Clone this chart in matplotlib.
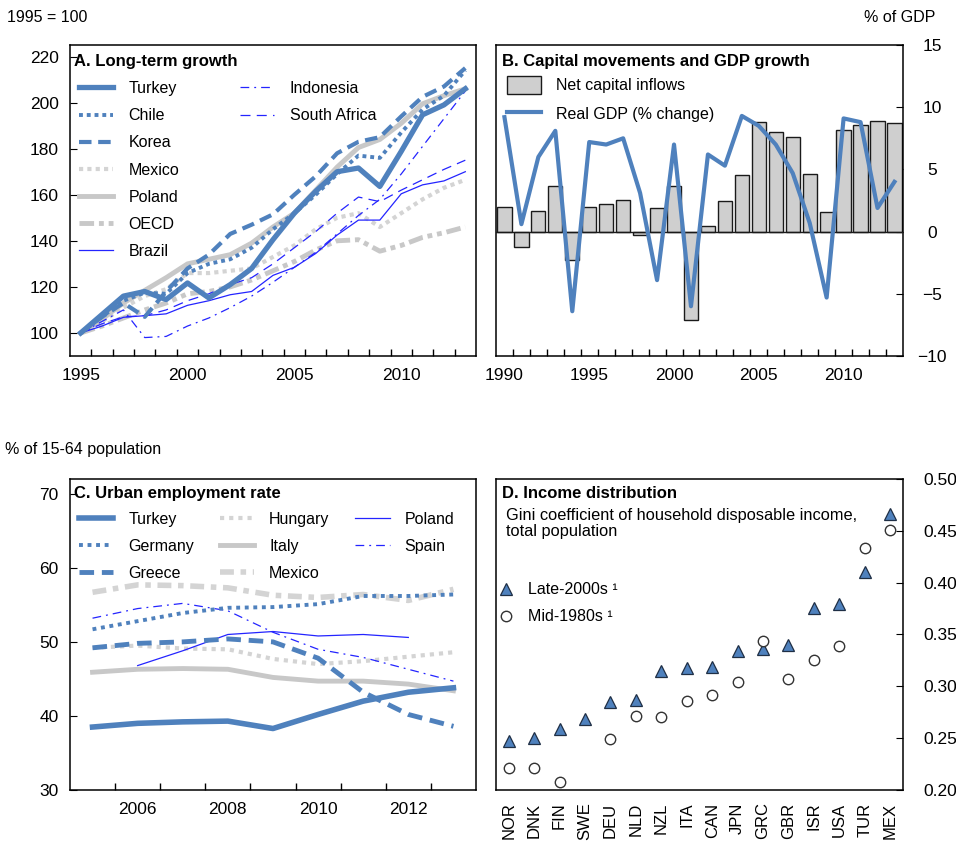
import numpy as np
import matplotlib.pyplot as plt

plt.rcParams['font.family'] = ['Liberation Sans', 'DejaVu Sans']

BLUE = '#4F81BD'
THIN = '#2424FF'
GREY = '#C8C8C8'
LGREY = '#D4D4D4'

# A. Long-term growth (1995 = 100)
years_a = list(range(1995, 2014))
turkey_a = [100, 108, 116, 118, 114.5, 121.7, 115.2, 121, 128, 140.5, 152, 161.5, 170, 171.6, 163.6, 178.8, 194.7, 199, 206]
chile_a = [100, 107, 114, 117.5, 117, 126, 130, 132, 137, 145, 152, 160, 169, 177, 176, 187, 197, 203, 214]
korea_a = [100, 107, 113, 107, 118, 128, 134, 143, 147, 151.5, 160, 168, 178, 183, 185, 194, 202.5, 207, 215]
mexico_a = [100, 105, 111, 116, 119, 126, 126, 127, 128, 133, 138, 145, 150, 152, 146, 152, 158, 163, 166.5]
poland_a = [100, 106, 113, 118.5, 124, 130, 132, 134, 139, 146, 152, 162, 172, 180.5, 184, 191, 199.5, 203, 206]
oecd_a = [100, 103, 106.5, 110, 113, 117, 118, 120, 123, 127, 131, 136, 140, 140.5, 135.5, 138, 141.5, 143.5, 146]
brazil_a = [100, 103, 106.8, 107.5, 108.3, 112, 114, 116.6, 118, 125, 128.5, 134.5, 142.5, 149, 149, 160.4, 164.3, 166, 170]
indonesia_a = [100, 105, 110, 98, 98.5, 103, 106.5, 111, 116, 122, 128.5, 135, 143, 151, 158, 169, 181, 193, 205]
south_africa_a = [100, 104, 107, 107.5, 110, 114, 117, 121, 124, 130, 137, 144, 152, 159, 157, 162, 166.5, 171, 175]

# B. Capital movements and GDP growth (% of GDP)
years_b = list(range(1990, 2014))
capital_inflows = [2.0, -1.2, 1.65, 3.7, -2.3, 2.0, 2.2, 2.55, -0.3, 1.9, 3.7, -7.1,
                   0.45, 2.45, 4.55, 8.8, 8.0, 7.6, 4.6, 1.55, 8.15, 8.6, 8.9, 8.75]
real_gdp = [9.2, 0.6, 6.0, 8.1, -6.4, 7.2, 7.0, 7.5, 3.1, -3.9, 7.0, -6.0,
            6.2, 5.3, 9.3, 8.5, 7.0, 4.7, 0.7, -5.3, 9.1, 8.8, 1.9, 4.0]

# C. Urban employment rate (% of 15-64 population)
years_c = list(range(2005, 2014))
turkey_c = [38.5, 39.0, 39.2, 39.3, 38.3, 40.2, 42.0, 43.2, 43.8]
germany_c = [51.7, 52.8, 53.9, 54.6, 54.7, 55.1, 56.2, 56.2, 56.4]
greece_c = [49.2, 49.8, 50.0, 50.4, 50.0, 47.8, 43.2, 40.2, 38.6]
hungary_c = [49.2, 49.5, 49.1, 49.0, 47.7, 47.0, 47.4, 48.0, 48.6]
italy_c = [45.9, 46.3, 46.4, 46.3, 45.2, 44.7, 44.7, 44.3, 43.4]
mexico_c = [56.7, 57.7, 57.6, 57.3, 56.3, 56.0, 56.4, 55.6, 57.1]
poland_c = [np.nan, 46.8, 48.8, 51.0, 51.4, 50.8, 51.0, 50.6, np.nan]
spain_c = [53.2, 54.5, 55.2, 54.2, 51.3, 49.0, 47.9, 46.3, 44.7]

# D. Income distribution (Gini)
countries = ['NOR', 'DNK', 'FIN', 'SWE', 'DEU', 'NLD', 'NZL', 'ITA', 'CAN', 'JPN',
             'GRC', 'GBR', 'ISR', 'USA', 'TUR', 'MEX']
late_2000s = [0.247, 0.250, 0.259, 0.268, 0.285, 0.287, 0.315, 0.318, 0.319, 0.334,
              0.336, 0.340, 0.376, 0.379, 0.410, 0.466]
mid_1980s = [0.221, 0.221, 0.208, np.nan, 0.249, 0.271, 0.270, 0.286, 0.292, 0.304,
             0.344, 0.307, 0.325, 0.339, 0.433, 0.451]

fig = plt.figure(figsize=(9.56, 8.43), dpi=100)
axA = fig.add_axes([0.0732, 0.5777, 0.4247, 0.3689])
axB = fig.add_axes([0.5188, 0.5777, 0.4257, 0.3689])
axC = fig.add_axes([0.0732, 0.0629, 0.4247, 0.3689])
axD = fig.add_axes([0.5188, 0.0629, 0.4257, 0.3689])

TICK_FS = 12.5
LEG_FS = 11.5


def year_axis(ax, start, end, labels):
    ax.set_xlim(start - 0.5, end + 0.5)
    ax.set_xticks(labels)
    ax.set_xticks(np.arange(start + 0.5, end, 1.0), minor=True)
    ax.tick_params(axis='x', which='major', length=0, pad=9, labelsize=TICK_FS)
    ax.tick_params(axis='x', which='minor', direction='in', length=5, width=1)


def right_axis(ax, pad):
    ax.yaxis.tick_right()
    ax.tick_params(axis='y', direction='in', length=5, labelsize=TICK_FS, pad=pad)
    for lbl in ax.get_yticklabels():
        lbl.set_horizontalalignment('center')


for ax in (axA, axB, axC, axD):
    for sp in ax.spines.values():
        sp.set_linewidth(1.1)

# ---- Panel A
axA.plot(years_a, oecd_a, color=GREY, lw=3.5, ls=(0, (3, 1, 1, 1, 1, 1)), label='OECD')
axA.plot(years_a, mexico_a, color=LGREY, lw=3, ls=(0, (1, 1)), label='Mexico')
axA.plot(years_a, poland_a, color=GREY, lw=3.5, label='Poland')
axA.plot(years_a, brazil_a, color=THIN, lw=0.9, label='Brazil')
axA.plot(years_a, indonesia_a, color=THIN, lw=0.9, ls=(0, (7, 4, 1.5, 4)), label='Indonesia')
axA.plot(years_a, south_africa_a, color=THIN, lw=0.9, ls=(0, (8, 5)), label='South Africa')
axA.plot(years_a, korea_a, color=BLUE, lw=3, ls=(0, (3, 1.6)), label='Korea')
axA.plot(years_a, chile_a, color=BLUE, lw=2.8, ls=(0, (1, 1)), label='Chile')
axA.plot(years_a, turkey_a, color=BLUE, lw=3.8, label='Turkey')

h, l = axA.get_legend_handles_labels()
hd = dict(zip(l, h))
order1 = ['Turkey', 'Chile', 'Korea', 'Mexico', 'Poland', 'OECD', 'Brazil']
order2 = ['Indonesia', 'South Africa']
leg_kw = dict(frameon=False, fontsize=LEG_FS, handlelength=2.15, handletextpad=0.95,
              labelspacing=0.76, borderpad=0, borderaxespad=0, loc='upper left')
leg1 = axA.legend([hd[k] for k in order1], order1, bbox_to_anchor=(0.022, 0.884), **leg_kw)
axA.add_artist(leg1)
axA.legend([hd[k] for k in order2], order2, bbox_to_anchor=(0.419, 0.884), **leg_kw)

axA.set_ylim(90, 225)
axA.set_yticks(range(100, 221, 20))
axA.tick_params(axis='y', direction='in', length=5, labelsize=TICK_FS, pad=8)
year_axis(axA, 1995, 2013, [1995, 2000, 2005, 2010])
axA.text(0.01, 0.948, 'A. Long-term growth', transform=axA.transAxes, fontsize=12,
         fontweight='bold', va='center', ha='left')

# ---- Panel B
bars = axB.bar(years_b, capital_inflows, width=0.84, color='#CFCFCF', edgecolor='#1A1A1A',
               lw=1, zorder=2)
axB.axhline(0, color='#1A1A1A', lw=1, zorder=3)
gdp_line, = axB.plot(years_b, real_gdp, color=BLUE, lw=3, zorder=4)
axB.set_ylim(-10, 15)
axB.set_yticks(range(-10, 16, 5))
year_axis(axB, 1990, 2013, [1990, 1995, 2000, 2005, 2010])
right_axis(axB, 21)
axB.legend([bars, gdp_line], ['Net capital inflows', 'Real GDP (% change)'],
           loc='upper left', bbox_to_anchor=(0.027, 0.9), frameon=False, fontsize=LEG_FS,
           handlelength=2.15, handleheight=1.3, handletextpad=0.95, labelspacing=0.72,
           borderpad=0, borderaxespad=0)
axB.text(0.015, 0.948, 'B. Capital movements and GDP growth', transform=axB.transAxes,
         fontsize=12, fontweight='bold', va='center', ha='left')

# ---- Panel C
axC.plot(years_c, mexico_c, color=LGREY, lw=4, ls=(0, (2.5, 1.2, 1, 1.2)), label='Mexico')
axC.plot(years_c, hungary_c, color=LGREY, lw=3, ls=(0, (1, 1.2)), label='Hungary')
axC.plot(years_c, italy_c, color=GREY, lw=3.5, label='Italy')
axC.plot(years_c, poland_c, color=THIN, lw=0.9, label='Poland')
axC.plot(years_c, spain_c, color=THIN, lw=0.9, ls=(0, (7, 4, 1.5, 4)), label='Spain')
axC.plot(years_c, greece_c, color=BLUE, lw=3.5, ls=(0, (3, 1.6)), label='Greece')
axC.plot(years_c, germany_c, color=BLUE, lw=2.8, ls=(0, (1, 1.2)), label='Germany')
axC.plot(years_c, turkey_c, color=BLUE, lw=4, label='Turkey')

h, l = axC.get_legend_handles_labels()
hd = dict(zip(l, h))
orderC = ['Turkey', 'Germany', 'Greece', 'Hungary', 'Italy', 'Mexico', 'Poland', 'Spain']
axC.legend([hd[k] for k in orderC], orderC, ncol=3, loc='upper left',
           bbox_to_anchor=(0.022, 0.895), frameon=False, fontsize=LEG_FS,
           handlelength=2.15, handletextpad=0.95, labelspacing=0.76, columnspacing=1.6,
           borderpad=0, borderaxespad=0)
axC.set_ylim(30, 72)
axC.set_yticks(range(30, 71, 10))
axC.tick_params(axis='y', direction='in', length=5, labelsize=TICK_FS, pad=8)
year_axis(axC, 2005, 2013, [2006, 2008, 2010, 2012])
axC.text(0.01, 0.952, 'C. Urban employment rate', transform=axC.transAxes, fontsize=12,
         fontweight='bold', va='center', ha='left')

# ---- Panel D
xd = np.arange(len(countries))
axD.plot(xd, late_2000s, ls='none', marker='^', ms=8, mfc=BLUE, mec='#1F2F45', mew=0.9,
         label='Late-2000s ¹')
axD.plot(xd, mid_1980s, ls='none', marker='o', ms=7.5, mfc='white', mec='#333333', mew=1,
         label='Mid-1980s ¹')
axD.set_xlim(-0.5, len(countries) - 0.5)
axD.set_xticks(xd)
axD.set_xticklabels(countries, rotation=90, fontsize=12)
axD.tick_params(axis='x', length=0, pad=9)
axD.set_ylim(0.2, 0.5)
axD.set_yticks(np.arange(0.2, 0.501, 0.05))
axD.set_yticklabels(['%.2f' % v for v in np.arange(0.2, 0.501, 0.05)])
right_axis(axD, 27)
axD.legend(loc='upper left', bbox_to_anchor=(0.004, 0.668), frameon=False, fontsize=LEG_FS,
           numpoints=1, handlelength=1.0, handletextpad=0.9, labelspacing=0.76,
           borderpad=0, borderaxespad=0)
axD.text(0.015, 0.952, 'D. Income distribution', transform=axD.transAxes, fontsize=12,
         fontweight='bold', va='center', ha='left')
axD.text(0.025, 0.857, 'Gini coefficient of household disposable income,\ntotal population',
         transform=axD.transAxes, fontsize=11.8, va='center', ha='left', linespacing=1.15)

# ---- Figure-level unit labels
fig.text(7 / 956, 1 - 17 / 843, '1995 = 100', fontsize=11.5, va='center', ha='left')
fig.text(935 / 956, 1 - 18 / 843, '% of GDP', fontsize=11.5, va='center', ha='right')
fig.text(5 / 956, 1 - 450 / 843, '% of 15-64 population', fontsize=11.5, va='center', ha='left')

fig.savefig('out.png', dpi=100)
